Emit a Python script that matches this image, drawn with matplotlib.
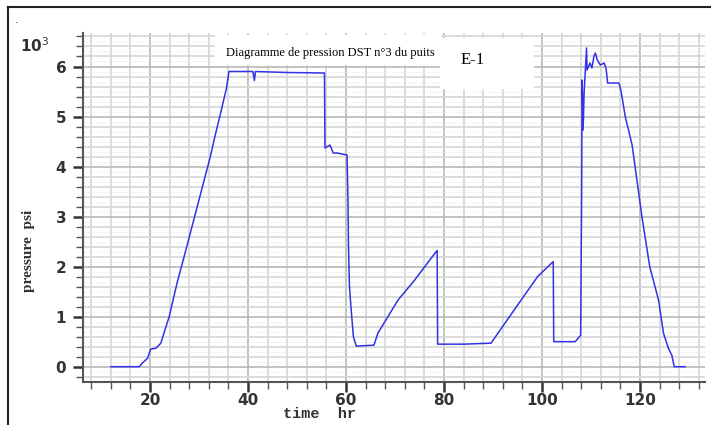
import numpy as np
import matplotlib.pyplot as plt
from matplotlib.lines import Line2D
from matplotlib.patches import Rectangle

# pressure record (time in hr, pressure in 10^3 psi)
time_hr = [12.0, 17.8, 18.4, 19.5, 20.1, 21.2, 22.2, 22.6, 23.9, 25.5, 27.3,
           32.3, 33.4, 34.4, 35.6, 36.1, 36.5, 41.0, 41.3, 41.5, 48.0, 55.6,
           55.7, 56.7, 57.4, 58.2, 60.2, 60.4, 60.5, 60.7, 61.0, 61.5, 62.1,
           65.7, 66.5, 70.6, 74.0, 78.4, 78.6, 78.7, 84.0, 89.6,
           94.3, 99.1, 102.3, 102.4, 106.8, 107.9, 108.1, 108.2, 108.4, 108.6,
           109.1, 109.2, 109.8, 110.2, 110.6, 110.9, 111.3, 111.9, 112.7, 113.1,
           113.4, 115.7, 116.1, 117.0, 118.4, 120.4, 122.0, 123.8, 124.8, 125.8,
           126.5, 127.0, 129.2]
pressure_k = [0.0, 0.0, 0.07, 0.17, 0.35, 0.37, 0.47, 0.60, 1.00, 1.67, 2.33,
              4.20, 4.67, 5.07, 5.57, 5.90, 5.90, 5.90, 5.72, 5.90, 5.88, 5.87,
              4.37, 4.43, 4.27, 4.27, 4.23, 3.33, 2.40, 1.60, 1.20, 0.60, 0.41,
              0.43, 0.67, 1.33, 1.73, 2.30, 2.32, 0.45, 0.45, 0.47,
              1.13, 1.80, 2.10, 0.50, 0.50, 0.63, 3.50, 5.73, 4.73, 5.47,
              6.37, 5.93, 6.07, 5.97, 6.20, 6.27, 6.13, 6.03, 6.07, 5.95,
              5.67, 5.67, 5.53, 5.00, 4.43, 3.00, 2.00, 1.33, 0.67, 0.37,
              0.23, 0.0, 0.0]

x_ticks = [20, 40, 60, 80, 100, 120]
y_ticks = [0, 1, 2, 3, 4, 5, 6]

fig = plt.figure(figsize=(7.11, 4.25), dpi=100)
ax = fig.add_axes([0.1167, 0.1012, 0.875, 0.8212])

# grid: light lines every 4 hr / 0.2, darker at major ticks
for xv in np.arange(8, 134, 4):
    c = '#b8b8b8' if xv % 20 == 0 else '#d6d6d6'
    ax.axvline(xv, color=c, lw=1.2, zorder=0)
for yv in np.arange(-0.2, 6.7, 0.2):
    c = '#b8b8b8' if abs(yv - round(yv)) < 1e-6 else '#d6d6d6'
    ax.axhline(yv, color=c, lw=1.2, zorder=0)
for yv in np.arange(-0.1, 6.7, 0.2):
    ax.axhline(yv, color='#e4e4e4', lw=0.7, ls=':', zorder=0)

ax.plot(time_hr, pressure_k, color='#3232e6', lw=1.1, zorder=3)

ax.set_xlim(6.3, 133.3)
ax.set_ylim(-0.306, 6.67)
ax.set_xticks(x_ticks)
ax.set_xticks(np.arange(8, 134, 4), minor=True)
ax.set_yticks(y_ticks)
ax.set_yticks(np.arange(-0.2, 6.7, 0.2), minor=True)
ax.tick_params(which='major', length=7, width=1.8, color='#333333')
ax.tick_params(which='minor', length=5, width=1.0, color='#555555')
ax.tick_params(axis='x', pad=1)
ax.tick_params(axis='y', pad=5)
for lab in ax.get_xticklabels() + ax.get_yticklabels():
    lab.set_fontweight('bold')
    lab.set_fontsize(11)
    lab.set_color('#333333')

for side in ['top', 'right']:
    ax.spines[side].set_visible(False)
for side in ['left', 'bottom']:
    ax.spines[side].set_color('#555555')
    ax.spines[side].set_linewidth(1.5)

# axis labels placed like the original
fig.text(0.040, 0.41, 'pressure  psi', rotation=90, ha='center', va='center',
         family='Liberation Serif', fontweight='bold', fontsize=11, color='#333333')
fig.text(0.45, 0.025, 'time  hr', ha='center', va='center',
         family='Liberation Mono', fontweight='bold', fontsize=11, color='#333333')
fig.text(0.028, 0.893, r'10$^3$', ha='left', va='center', fontweight='bold',
         fontsize=11, color='#333333')
fig.text(0.021, 0.945, '.', fontsize=8, color='#333333')

# title boxes
fig.patches.append(Rectangle((215 / 711, 1 - 64 / 425), 225 / 711, 29 / 425,
                             transform=fig.transFigure, color='white', zorder=5))
fig.text(226 / 711, 1 - 53 / 425, 'Diagramme de pression DST n°3 du puits',
         family='Liberation Serif', fontsize=9, va='center', ha='left', zorder=6)
fig.patches.append(Rectangle((440 / 711, 1 - 88 / 425), 93 / 711, 50 / 425,
                             transform=fig.transFigure, color='white', zorder=5))
fig.text(461 / 711, 1 - 60 / 425, 'E-1', family='Liberation Serif', fontsize=12,
         va='center', ha='left', zorder=6)

# outer frame (left and top edges)
fig.add_artist(Line2D([8 / 711, 8 / 711], [0, 1 - 7 / 425], color='#222222', lw=1.5,
                      transform=fig.transFigure))
fig.add_artist(Line2D([8 / 711, 1], [1 - 7 / 425, 1 - 7 / 425], color='#222222', lw=1.5,
                      transform=fig.transFigure))

fig.savefig('out.png', dpi=100)
